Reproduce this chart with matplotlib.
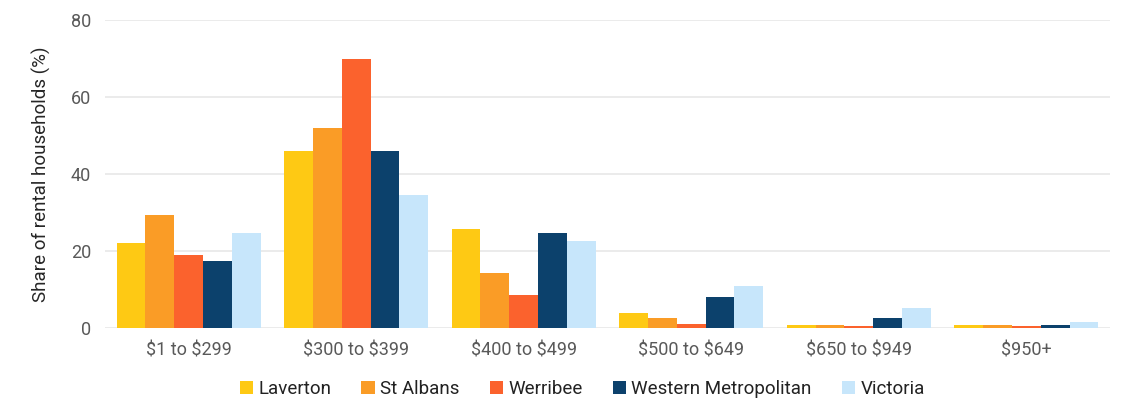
import matplotlib.pyplot as plt
import numpy as np

plt.rcParams['font.family'] = ['Roboto', 'DejaVu Sans']
plt.rcParams['text.parse_math'] = False

# Weekly rent bands and share of rental households (%)
categories = ["$1 to $299", "$300 to $399", "$400 to $499", "$500 to $649", "$650 to $949", "$950+"]
series = ["Laverton", "St Albans", "Werribee", "Western Metropolitan", "Victoria"]
laverton = [22.0, 46.0, 25.8, 3.9, 0.8, 0.9]
st_albans = [29.4, 52.0, 14.3, 2.6, 0.8, 0.9]
werribee = [19.0, 70.0, 8.6, 1.0, 0.6, 0.4]
western_metro = [17.5, 46.0, 24.7, 8.0, 2.6, 0.7]
victoria = [24.7, 34.6, 22.7, 10.9, 5.2, 1.6]
colors = ["#FEC914", "#FA9C26", "#FB622D", "#0C416C", "#C7E6FB"]

values = [laverton, st_albans, werribee, western_metro, victoria]
text_col = "#595959"

fig, ax = plt.subplots(figsize=(11.27, 4.0), dpi=100)
fig.subplots_adjust(left=0.093, right=0.985, top=0.95, bottom=0.18)

x = np.arange(len(categories))
w = 0.172
for i, (name, vals) in enumerate(zip(series, values)):
    ax.bar(x + (i - 2) * w, vals, w, color=colors[i], label=name, zorder=3)

ax.set_xlim(-0.5, len(categories) - 0.5)
ax.set_ylim(0, 80)
ax.set_yticks([0, 20, 40, 60, 80])
ax.set_xticks(x)
ax.set_xticklabels(categories)
ax.grid(axis="y", color="#E8E8E8", linewidth=1.2, zorder=0)
for s in ax.spines.values():
    s.set_visible(False)
ax.tick_params(length=0, labelsize=13, colors=text_col, pad=10)
ax.set_ylabel("Share of rental households (%)", fontsize=13.5, color="#262626", labelpad=14)

ax.legend(loc="upper center", bbox_to_anchor=(0.475, -0.115), ncol=5, frameon=False,
          fontsize=13.5, handlelength=0.7, handleheight=0.7, handletextpad=0.3,
          columnspacing=1.6, labelcolor="#222222")

plt.savefig("out.png", dpi=100)
